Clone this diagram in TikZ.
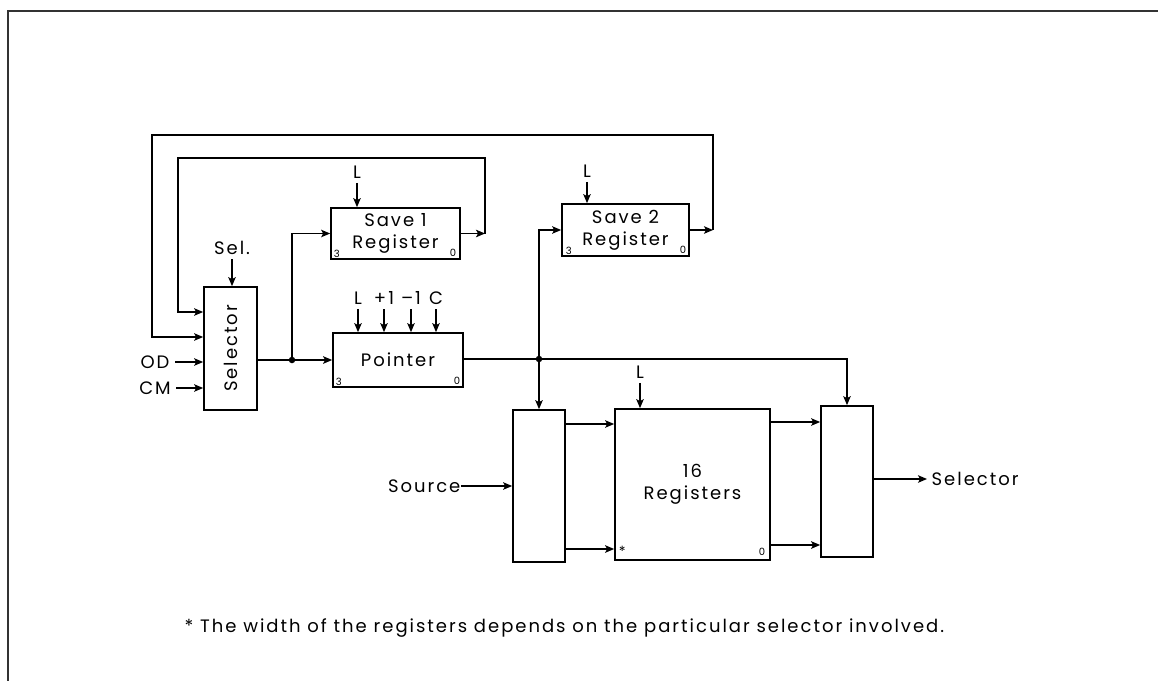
\documentclass[tikz,border=0pt]{standalone}
\usepackage{fontspec}
\setmainfont{Poppins}[LetterSpace=11]
\usetikzlibrary{arrows.meta,calc}
\begin{document}
\begin{tikzpicture}[x=1pt,y=-1pt,
  line width=1.3pt,
  >={Stealth[length=9pt,width=7.5pt,inset=2pt]},
  every node/.style={font=\fontsize{18}{22}\selectfont, inner sep=0pt},
  box/.style n args={2}{draw, line width=1.7pt, minimum width=#1, minimum height=#2, align=center},
  tiny/.style={font=\fontsize{10}{12}\selectfont},
  dot/.style={circle, fill, minimum size=6.5pt, inner sep=0pt},
  ctl/.style={->, shorten <=4pt}]
\useasboundingbox (0,0) rectangle (1158,680);
\clip (0,0) rectangle (1158,680);
% frame
\draw[line width=2.4pt, black!80] (1175,11) -- (8,11) -- (8,700);

% boxes
\node[box={53pt}{123pt}] (sel) at (230.5,348.5) {};
\node[rotate=90] (seltxt) at (sel.center) {Selector};
\node[box={129pt}{51pt}] (s1) at (395.5,233.5) {Save 1\\Register};
\node[box={127pt}{52pt}] (s2) at (625.5,230) {Save 2\\Register};
\node[box={130pt}{54pt}] (ptr) at (398,360) {Pointer};
\node[box={52pt}{152pt}] (lm) at (539,486) {};
\node[box={155pt}{151pt}] (rg) at (692.5,484.5) {16\\Registers};
\node[box={52pt}{151pt}] (rm) at (847,481.5) {};

% small bit labels
\node[tiny, anchor=south west] (s1a) at ($(s1.south west)+(3,-2)$) {3};
\node[tiny, anchor=south east] (s1b) at ($(s1.south east)+(-4,-3)$) {0};
\node[tiny, anchor=south west] (s2a) at ($(s2.south west)+(4,-2)$) {3};
\node[tiny, anchor=south east] (s2b) at ($(s2.south east)+(-3,-3)$) {0};
\node[tiny, anchor=south west] (pa) at ($(ptr.south west)+(3,-2)$) {3};
\node[tiny, anchor=south east] (pb) at ($(ptr.south east)+(-3,-3)$) {0};
\node[font=\fontsize{14}{14}\selectfont, anchor=south west] (ra) at ($(rg.south west)+(4,-4)$) {*};
\node[tiny, anchor=south east] (rb) at ($(rg.south east)+(-5,-5)$) {0};

% control labels
\node (sell) at (232,248) {Sel.};
\draw[ctl] (sell.south) -- (sell.south |- sel.north);
\node (l1) at (357,172) {L};
\draw[ctl] (l1.south) -- (l1.south |- s1.north);
\node (l2) at (587,171) {L};
\draw[ctl] (l2.south) -- (l2.south |- s2.north);
\node (l3) at (640,372) {L};
\draw[ctl] (l3.south) -- (l3.south |- rg.north);
\node (pl) at (358,298) {L};
\node (pp) at (384,298) {+1};
\node (pm) at (411,298) {\char"2013 1};
\node (pc) at (436,298) {C};
\foreach \n in {pl,pp,pm,pc}{\draw[ctl] (\n.south) -- (\n.south |- ptr.north);}

% selector inputs
\node (od) at (155,362) {OD};
\node (cm) at (155,388) {CM};
\draw[->] ([xshift=5pt]od.east) -- (od.east -| sel.west);
\draw[->] ([xshift=5pt]cm.east) -- (cm.east -| sel.west);

% feedback loops
\coordinate (k1) at (485,233.5);
\coordinate (t1) at (178,158);
\coordinate (in1) at ($(sel.west)+(0,-36.5)$);
\draw[->] (s1.east) -- (k1);
\draw[->] (k1) |- (t1) |- (in1);
\coordinate (k2) at (713,230);
\coordinate (t2) at (152,135);
\coordinate (in2) at ($(sel.west)+(0,-11.5)$);
\draw[->] (s2.east) -- (k2);
\draw[->] (k2) |- (t2) |- (in2);

% selector output
\node[dot] (j1) at (292,360) {};
\draw[->, line width=1.8pt] (sel.east |- ptr.west) -- (ptr.west);
\draw[->] (j1.center) |- (s1.west);

% pointer output
\node[dot] (j2) at (539,359) {};
\draw[->, line width=1.1pt] (ptr.east |- j2) -| (rm.north);
\draw[->] (j2.center) -- (lm.north);
\draw[->] (j2.center) |- (s2.west);

% register bank connections
\coordinate (y1) at (0,424);
\coordinate (y2) at (0,549);
\coordinate (y3) at (0,422);
\coordinate (y4) at (0,545);
\draw[->] (lm.east |- y1) -- (rg.west |- y1);
\draw[->, line width=1.7pt] (lm.east |- y2) -- (rg.west |- y2);
\draw[->] (rg.east |- y3) -- (rm.west |- y3);
\draw[->, line width=1.7pt] (rg.east |- y4) -- (rm.west |- y4);

\node[anchor=east] (src) at (461,486) {Source};
\draw[->] (src.east) -- (src.east -| lm.west);
\node[anchor=west] (out) at (931,479) {Selector};
\draw[->] (rm.east |- out.west) -- ([xshift=-4pt]out.west);

% footnote
\node[anchor=west] (fn) at (184,628) {* The width of the registers depends on the particular selector involved.};
\end{tikzpicture}
\end{document}
